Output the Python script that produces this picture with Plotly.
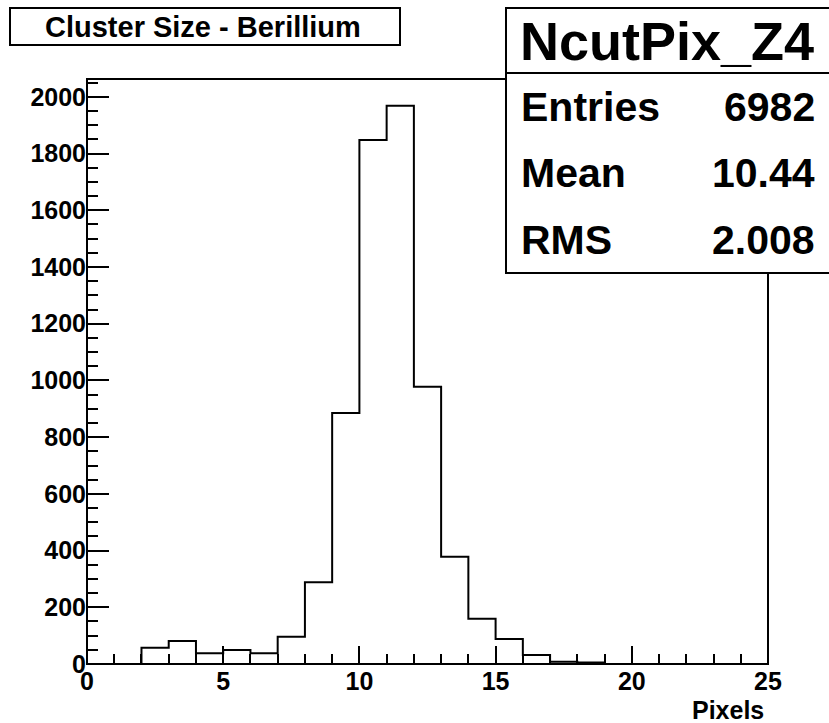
import plotly.graph_objects as go

# ---- data ----
bin_edges = list(range(0, 26))
counts = [0, 0, 57, 81, 38, 49, 38, 96, 288, 885, 1848, 1969, 978, 378, 160, 88, 32, 8, 5,
          0, 0, 0, 0, 0, 0]
x_tick_step = 5
y_tick_step = 200
stat_labels = ["Entries", "Mean", "RMS"]
stat_values = ["6982", "10.44", "2.008"]
hist_name = "NcutPix_Z4"
title_text = "Cluster Size - Berillium"
x_title = "Pixels"

# ---- geometry (pixels) ----
WIDTH, HEIGHT = 829, 723
L, R, T, B = 87, 768, 79, 664
PW, PH = R - L, B - T


def fx(px):
    return (px - L) / PW


def fy(py):
    return (B - py) / PH


FONT = "Liberation Sans, Arial, Helvetica, sans-serif"

step_x = bin_edges
step_y = counts + [counts[-1]]

fig = go.Figure()
fig.add_trace(go.Scatter(
    x=step_x, y=step_y, mode="lines", line=dict(shape="hv", color="black", width=2),
    hoverinfo="skip", showlegend=False,
))

fig.update_layout(
    width=WIDTH, height=HEIGHT,
    margin=dict(l=L, r=WIDTH - R, t=T, b=HEIGHT - B),
    plot_bgcolor="white",
    showlegend=False,
)

fig.update_xaxes(
    range=[0, 25], tickmode="linear", tick0=0, dtick=x_tick_step,
    showgrid=False, zeroline=False, showline=False,
    ticks="inside", ticklen=18, tickwidth=2, tickcolor="black",
    minor=dict(ticks="inside", ticklen=10, tickwidth=2, tickcolor="black", dtick=1, tick0=0, showgrid=False),
    tickfont=dict(family=FONT, size=25, color="black", weight="bold"),
)
fig.update_yaxes(
    range=[0, 2063], tickmode="linear", tick0=0, dtick=y_tick_step,
    showgrid=False, zeroline=False, showline=False,
    ticks="inside", ticklen=22, tickwidth=2, tickcolor="black",
    minor=dict(ticks="inside", ticklen=11, tickwidth=2, tickcolor="black", dtick=50, tick0=0, showgrid=False),
    tickfont=dict(family=FONT, size=25, color="black", weight="bold"),
)

shapes = []
# plot frame
shapes.append(dict(type="rect", xref="paper", yref="paper", x0=0, x1=1, y0=0, y1=1,
                   line=dict(color="black", width=2), layer="above"))
# title box
shapes.append(dict(type="rect", xref="paper", yref="paper",
                   x0=fx(10), x1=fx(400), y0=fy(45), y1=fy(8),
                   line=dict(color="black", width=2), fillcolor="white", layer="above"))
# stats box
shapes.append(dict(type="rect", xref="paper", yref="paper",
                   x0=fx(506), x1=fx(840), y0=fy(273), y1=fy(8),
                   line=dict(color="black", width=2), fillcolor="white", layer="above"))
shapes.append(dict(type="line", xref="paper", yref="paper",
                   x0=fx(506), x1=fx(840), y0=fy(73), y1=fy(73),
                   line=dict(color="black", width=2), layer="above"))
fig.update_layout(shapes=shapes)

ann = []
ann.append(dict(text=title_text, xref="paper", yref="paper", x=fx(203), y=fy(27),
                xanchor="center", yanchor="middle", showarrow=False,
                font=dict(family=FONT, size=29, color="black", weight="bold")))
ann.append(dict(text=hist_name, xref="paper", yref="paper", x=fx(667), y=fy(41),
                xanchor="center", yanchor="middle", showarrow=False,
                font=dict(family=FONT, size=54, color="black", weight="bold")))
row_y = [107, 173, 240]
for lab, val, ry in zip(stat_labels, stat_values, row_y):
    ann.append(dict(text=lab, xref="paper", yref="paper", x=fx(519), y=fy(ry),
                    xanchor="left", yanchor="middle", showarrow=False,
                    font=dict(family=FONT, size=41, color="black", weight="bold")))
    ann.append(dict(text=val, xref="paper", yref="paper", x=fx(817), y=fy(ry),
                    xanchor="right", yanchor="middle", showarrow=False,
                    font=dict(family=FONT, size=41, color="black", weight="bold")))
ann.append(dict(text=x_title, xref="paper", yref="paper", x=fx(766), y=fy(710),
                xanchor="right", yanchor="middle", showarrow=False,
                font=dict(family=FONT, size=25, color="black", weight="bold")))
fig.update_layout(annotations=ann)

fig.write_html("out.html")
